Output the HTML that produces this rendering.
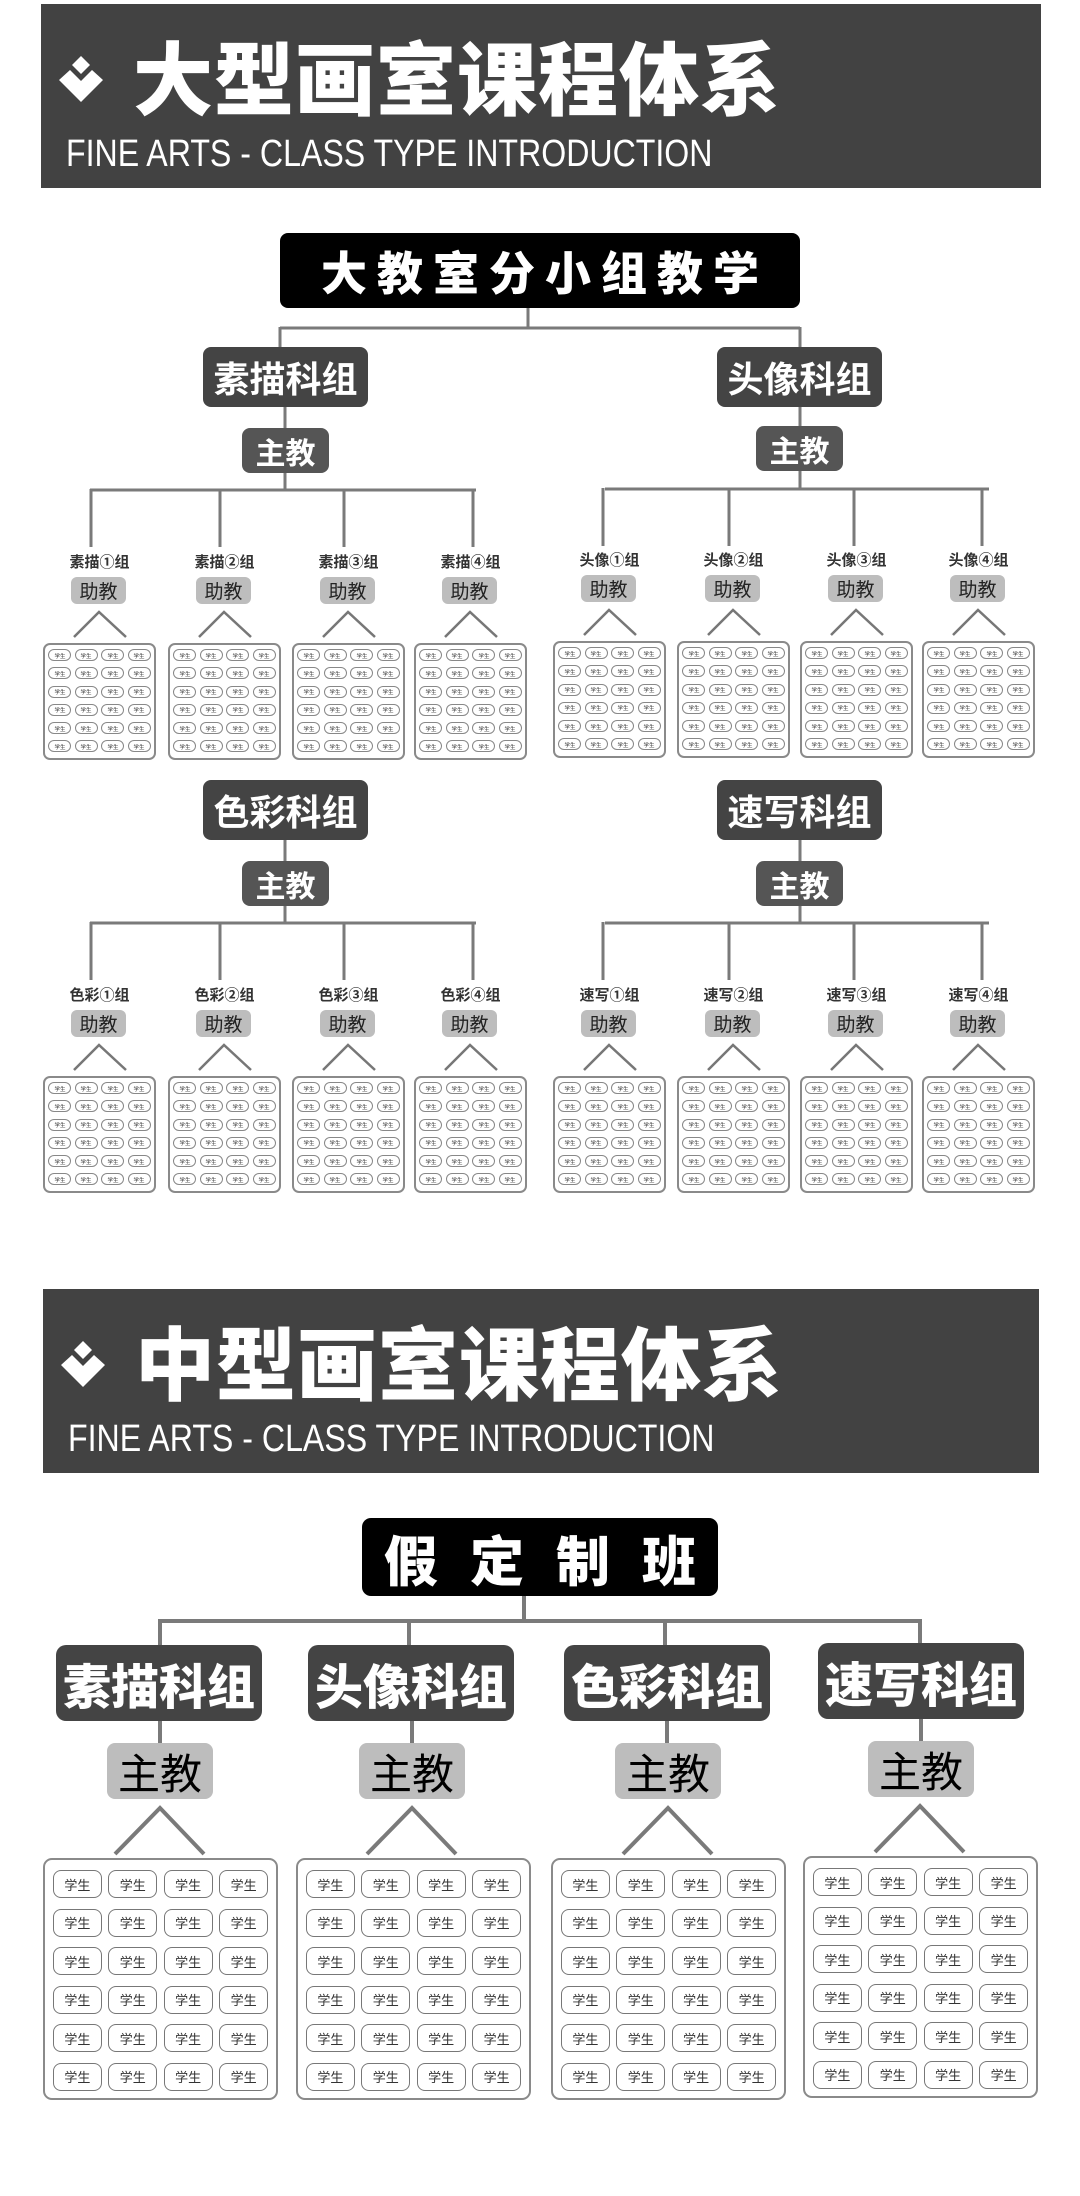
<!DOCTYPE html>
<html><head><meta charset="utf-8">
<style>
*{margin:0;padding:0;box-sizing:border-box}
body{width:1080px;height:2196px;background:#fff;position:relative;overflow:hidden;font-family:"Liberation Sans","Noto Sans CJK SC",sans-serif}
.a{position:absolute}
.hdr{position:absolute;background:#424242}
.ttl{position:absolute;color:#fff;font-family:"Noto Sans CJK SC",sans-serif;font-weight:900;font-size:80px;line-height:82px;white-space:nowrap;letter-spacing:1px}
.sub{position:absolute;color:#fff;font-family:"Liberation Sans",sans-serif;font-size:38px;line-height:38px;white-space:nowrap;transform:scaleX(0.845);transform-origin:0 0}
.bx{position:absolute;display:flex;align-items:center;justify-content:center;font-family:"Liberation Sans","Noto Sans CJK SC",sans-serif;white-space:nowrap}
.g1{background:#444;color:#fff;font-weight:700;font-size:36px;border-radius:8px;width:165px;height:60px}
.z1{background:#555;color:#fff;font-weight:700;font-size:30px;border-radius:8px;width:87px;height:45px}
.lb{position:absolute;width:113px;text-align:center;font-family:"Liberation Sans","Noto Sans CJK SC",sans-serif;font-weight:700;font-size:15px;color:#333;line-height:18px}
.zj{background:#bdbdbd;color:#222;font-size:19px;border-radius:6px;width:55px;height:27px}
.sb{position:absolute;width:113px;height:117px;border:2px solid #8a8a8a;border-radius:7px;background:#fff;display:grid;grid-template-columns:repeat(4,23px);column-gap:3.5px;row-gap:6.3px;justify-content:center;align-content:start;padding-top:4px}
.sb i{font-style:normal;display:flex;align-items:center;justify-content:center;height:12px;border:1px solid #888;border-radius:6px;font-size:10px;color:#333;font-family:"Noto Sans CJK SC",sans-serif;overflow:hidden}
.sb i b{font-weight:400;display:inline-block;transform:scale(0.55);white-space:nowrap}
.g2{background:#444;color:#fff;font-weight:900;font-size:48px;border-radius:10px;width:206px;height:76px;font-family:"Noto Sans CJK SC",sans-serif}
.z2{background:#bdbdbd;color:#000;font-size:42px;border-radius:8px;width:106px;height:56px;font-family:"Noto Sans CJK SC",sans-serif}
.sb2{position:absolute;width:235px;height:242px;border:2.5px solid #8a8a8a;border-radius:9px;background:#fff;display:grid;grid-template-columns:repeat(4,49px);column-gap:6.4px;row-gap:10.5px;justify-content:center;align-content:start;padding-top:10px}
.sb2 i{font-style:normal;display:flex;align-items:center;justify-content:center;height:28px;border:1.5px solid #777;border-radius:8px;font-size:13px;color:#333;font-family:"Noto Sans CJK SC",sans-serif}
</style></head><body>

<div class="hdr" style="left:41px;top:4px;width:1000px;height:184px"></div>
<svg class="a" style="left:0;top:0" width="1080" height="2196">
<g fill="#fff">
<polygon points="81,56 90,65 81,74 72,65"/>
<polygon points="59,80 70,70 81,81 92,70 103,80 81,102"/>
<polygon points="83,1341 92,1350 83,1359 74,1350"/>
<polygon points="61,1365 72,1355 83,1366 94,1355 105,1365 83,1387"/>
</g>
<g stroke="#7a7a7a" stroke-width="3" fill="none">
<line x1="528" y1="308" x2="528" y2="328"/>
<line x1="280" y1="328" x2="800" y2="328"/>
<line x1="280" y1="327" x2="280" y2="347"/>
<line x1="800" y1="327" x2="800" y2="347"/>
<line x1="285" y1="407" x2="285" y2="428"/>
<line x1="285" y1="473" x2="285" y2="490"/>
<line x1="90" y1="490" x2="476" y2="490"/>
<line x1="91" y1="489" x2="91" y2="547"/>
<line x1="220" y1="489" x2="220" y2="547"/>
<line x1="344" y1="489" x2="344" y2="547"/>
<line x1="473" y1="489" x2="473" y2="547"/>
<line x1="800" y1="407" x2="800" y2="428"/>
<line x1="800" y1="471" x2="800" y2="489"/>
<line x1="605" y1="489" x2="989" y2="489"/>
<line x1="603" y1="488" x2="603" y2="546"/>
<line x1="729" y1="488" x2="729" y2="546"/>
<line x1="854" y1="488" x2="854" y2="546"/>
<line x1="982" y1="488" x2="982" y2="546"/>
<line x1="285" y1="840" x2="285" y2="861"/>
<line x1="285" y1="906" x2="285" y2="923"/>
<line x1="90" y1="923" x2="476" y2="923"/>
<line x1="91" y1="922" x2="91" y2="980"/>
<line x1="220" y1="922" x2="220" y2="980"/>
<line x1="344" y1="922" x2="344" y2="980"/>
<line x1="473" y1="922" x2="473" y2="980"/>
<line x1="800" y1="840" x2="800" y2="861"/>
<line x1="800" y1="906" x2="800" y2="923"/>
<line x1="605" y1="923" x2="989" y2="923"/>
<line x1="603" y1="922" x2="603" y2="980"/>
<line x1="729" y1="922" x2="729" y2="980"/>
<line x1="854" y1="922" x2="854" y2="980"/>
<line x1="982" y1="922" x2="982" y2="980"/>
</g>
<g stroke="#777" stroke-width="2.5" fill="none">
<polyline points="74,637 99,612 126,637"/>
<polyline points="199,637 224,612 251,637"/>
<polyline points="323,637 348,612 375,637"/>
<polyline points="445,637 470,612 497,637"/>
<polyline points="584,635 609,610 636,635"/>
<polyline points="708,635 733,610 760,635"/>
<polyline points="831,635 856,610 883,635"/>
<polyline points="953,635 978,610 1005,635"/>
<polyline points="74,1070 99,1045 126,1070"/>
<polyline points="199,1070 224,1045 251,1070"/>
<polyline points="323,1070 348,1045 375,1070"/>
<polyline points="445,1070 470,1045 497,1070"/>
<polyline points="584,1070 609,1045 636,1070"/>
<polyline points="708,1070 733,1045 760,1070"/>
<polyline points="831,1070 856,1045 883,1070"/>
<polyline points="953,1070 978,1045 1005,1070"/>
</g>
<g stroke="#7a7a7a" stroke-width="4" fill="none">
<line x1="524" y1="1596" x2="524" y2="1621"/>
<line x1="160" y1="1621" x2="920" y2="1621"/>
<line x1="160" y1="1619" x2="160" y2="1645"/>
<line x1="409" y1="1619" x2="409" y2="1645"/>
<line x1="665" y1="1619" x2="665" y2="1645"/>
<line x1="920" y1="1619" x2="920" y2="1645"/>
<line x1="160" y1="1720" x2="160" y2="1743"/>
<line x1="412" y1="1720" x2="412" y2="1743"/>
<line x1="667" y1="1720" x2="667" y2="1743"/>
<line x1="921" y1="1718" x2="921" y2="1741"/>
<polyline points="115,1854 160,1808 204,1854"/>
<polyline points="367,1854 412,1808 456,1854"/>
<polyline points="623,1854 668,1808 712,1854"/>
<polyline points="875,1852 920,1806 964,1852"/>
</g>
</svg>
<div class="ttl" style="left:133px;top:34px">大型画室课程体系</div>
<div class="sub" style="left:66px;top:135px">FINE ARTS - CLASS TYPE INTRODUCTION</div>

<div class="bx" style="left:280px;top:233px;width:520px;height:75px;background:#000;color:#fff;border-radius:8px;font-family:'Noto Sans CJK SC',sans-serif;font-weight:900;font-size:46px;letter-spacing:10px;padding-left:10px">大教室分小组教学</div>

<div class="bx g1" style="left:203px;top:347px">素描科组</div>
<div class="bx g1" style="left:717px;top:347px">头像科组</div>
<div class="bx z1" style="left:242px;top:428px">主教</div>
<div class="bx z1" style="left:756px;top:426px">主教</div>

<div class="lb" style="left:43px;top:554px">素描①组</div>
<div class="lb" style="left:168px;top:554px">素描②组</div>
<div class="lb" style="left:292px;top:554px">素描③组</div>
<div class="lb" style="left:414px;top:554px">素描④组</div>
<div class="lb" style="left:553px;top:552px">头像①组</div>
<div class="lb" style="left:677px;top:552px">头像②组</div>
<div class="lb" style="left:800px;top:552px">头像③组</div>
<div class="lb" style="left:922px;top:552px">头像④组</div>

<div class="bx zj" style="left:71px;top:577px">助教</div>
<div class="bx zj" style="left:196px;top:577px">助教</div>
<div class="bx zj" style="left:320px;top:577px">助教</div>
<div class="bx zj" style="left:442px;top:577px">助教</div>
<div class="bx zj" style="left:581px;top:575px">助教</div>
<div class="bx zj" style="left:705px;top:575px">助教</div>
<div class="bx zj" style="left:828px;top:575px">助教</div>
<div class="bx zj" style="left:950px;top:575px">助教</div>

<div class="sb" style="left:43px;top:643px"><i><b>学生</b></i><i><b>学生</b></i><i><b>学生</b></i><i><b>学生</b></i><i><b>学生</b></i><i><b>学生</b></i><i><b>学生</b></i><i><b>学生</b></i><i><b>学生</b></i><i><b>学生</b></i><i><b>学生</b></i><i><b>学生</b></i><i><b>学生</b></i><i><b>学生</b></i><i><b>学生</b></i><i><b>学生</b></i><i><b>学生</b></i><i><b>学生</b></i><i><b>学生</b></i><i><b>学生</b></i><i><b>学生</b></i><i><b>学生</b></i><i><b>学生</b></i><i><b>学生</b></i></div>
<div class="sb" style="left:168px;top:643px"><i><b>学生</b></i><i><b>学生</b></i><i><b>学生</b></i><i><b>学生</b></i><i><b>学生</b></i><i><b>学生</b></i><i><b>学生</b></i><i><b>学生</b></i><i><b>学生</b></i><i><b>学生</b></i><i><b>学生</b></i><i><b>学生</b></i><i><b>学生</b></i><i><b>学生</b></i><i><b>学生</b></i><i><b>学生</b></i><i><b>学生</b></i><i><b>学生</b></i><i><b>学生</b></i><i><b>学生</b></i><i><b>学生</b></i><i><b>学生</b></i><i><b>学生</b></i><i><b>学生</b></i></div>
<div class="sb" style="left:292px;top:643px"><i><b>学生</b></i><i><b>学生</b></i><i><b>学生</b></i><i><b>学生</b></i><i><b>学生</b></i><i><b>学生</b></i><i><b>学生</b></i><i><b>学生</b></i><i><b>学生</b></i><i><b>学生</b></i><i><b>学生</b></i><i><b>学生</b></i><i><b>学生</b></i><i><b>学生</b></i><i><b>学生</b></i><i><b>学生</b></i><i><b>学生</b></i><i><b>学生</b></i><i><b>学生</b></i><i><b>学生</b></i><i><b>学生</b></i><i><b>学生</b></i><i><b>学生</b></i><i><b>学生</b></i></div>
<div class="sb" style="left:414px;top:643px"><i><b>学生</b></i><i><b>学生</b></i><i><b>学生</b></i><i><b>学生</b></i><i><b>学生</b></i><i><b>学生</b></i><i><b>学生</b></i><i><b>学生</b></i><i><b>学生</b></i><i><b>学生</b></i><i><b>学生</b></i><i><b>学生</b></i><i><b>学生</b></i><i><b>学生</b></i><i><b>学生</b></i><i><b>学生</b></i><i><b>学生</b></i><i><b>学生</b></i><i><b>学生</b></i><i><b>学生</b></i><i><b>学生</b></i><i><b>学生</b></i><i><b>学生</b></i><i><b>学生</b></i></div>
<div class="sb" style="left:553px;top:641px"><i><b>学生</b></i><i><b>学生</b></i><i><b>学生</b></i><i><b>学生</b></i><i><b>学生</b></i><i><b>学生</b></i><i><b>学生</b></i><i><b>学生</b></i><i><b>学生</b></i><i><b>学生</b></i><i><b>学生</b></i><i><b>学生</b></i><i><b>学生</b></i><i><b>学生</b></i><i><b>学生</b></i><i><b>学生</b></i><i><b>学生</b></i><i><b>学生</b></i><i><b>学生</b></i><i><b>学生</b></i><i><b>学生</b></i><i><b>学生</b></i><i><b>学生</b></i><i><b>学生</b></i></div>
<div class="sb" style="left:677px;top:641px"><i><b>学生</b></i><i><b>学生</b></i><i><b>学生</b></i><i><b>学生</b></i><i><b>学生</b></i><i><b>学生</b></i><i><b>学生</b></i><i><b>学生</b></i><i><b>学生</b></i><i><b>学生</b></i><i><b>学生</b></i><i><b>学生</b></i><i><b>学生</b></i><i><b>学生</b></i><i><b>学生</b></i><i><b>学生</b></i><i><b>学生</b></i><i><b>学生</b></i><i><b>学生</b></i><i><b>学生</b></i><i><b>学生</b></i><i><b>学生</b></i><i><b>学生</b></i><i><b>学生</b></i></div>
<div class="sb" style="left:800px;top:641px"><i><b>学生</b></i><i><b>学生</b></i><i><b>学生</b></i><i><b>学生</b></i><i><b>学生</b></i><i><b>学生</b></i><i><b>学生</b></i><i><b>学生</b></i><i><b>学生</b></i><i><b>学生</b></i><i><b>学生</b></i><i><b>学生</b></i><i><b>学生</b></i><i><b>学生</b></i><i><b>学生</b></i><i><b>学生</b></i><i><b>学生</b></i><i><b>学生</b></i><i><b>学生</b></i><i><b>学生</b></i><i><b>学生</b></i><i><b>学生</b></i><i><b>学生</b></i><i><b>学生</b></i></div>
<div class="sb" style="left:922px;top:641px"><i><b>学生</b></i><i><b>学生</b></i><i><b>学生</b></i><i><b>学生</b></i><i><b>学生</b></i><i><b>学生</b></i><i><b>学生</b></i><i><b>学生</b></i><i><b>学生</b></i><i><b>学生</b></i><i><b>学生</b></i><i><b>学生</b></i><i><b>学生</b></i><i><b>学生</b></i><i><b>学生</b></i><i><b>学生</b></i><i><b>学生</b></i><i><b>学生</b></i><i><b>学生</b></i><i><b>学生</b></i><i><b>学生</b></i><i><b>学生</b></i><i><b>学生</b></i><i><b>学生</b></i></div>

<div class="bx g1" style="left:203px;top:780px">色彩科组</div>
<div class="bx g1" style="left:717px;top:780px">速写科组</div>
<div class="bx z1" style="left:242px;top:861px">主教</div>
<div class="bx z1" style="left:756px;top:861px">主教</div>

<div class="lb" style="left:43px;top:987px">色彩①组</div>
<div class="lb" style="left:168px;top:987px">色彩②组</div>
<div class="lb" style="left:292px;top:987px">色彩③组</div>
<div class="lb" style="left:414px;top:987px">色彩④组</div>
<div class="lb" style="left:553px;top:987px">速写①组</div>
<div class="lb" style="left:677px;top:987px">速写②组</div>
<div class="lb" style="left:800px;top:987px">速写③组</div>
<div class="lb" style="left:922px;top:987px">速写④组</div>

<div class="bx zj" style="left:71px;top:1010px">助教</div>
<div class="bx zj" style="left:196px;top:1010px">助教</div>
<div class="bx zj" style="left:320px;top:1010px">助教</div>
<div class="bx zj" style="left:442px;top:1010px">助教</div>
<div class="bx zj" style="left:581px;top:1010px">助教</div>
<div class="bx zj" style="left:705px;top:1010px">助教</div>
<div class="bx zj" style="left:828px;top:1010px">助教</div>
<div class="bx zj" style="left:950px;top:1010px">助教</div>

<div class="sb" style="left:43px;top:1076px"><i><b>学生</b></i><i><b>学生</b></i><i><b>学生</b></i><i><b>学生</b></i><i><b>学生</b></i><i><b>学生</b></i><i><b>学生</b></i><i><b>学生</b></i><i><b>学生</b></i><i><b>学生</b></i><i><b>学生</b></i><i><b>学生</b></i><i><b>学生</b></i><i><b>学生</b></i><i><b>学生</b></i><i><b>学生</b></i><i><b>学生</b></i><i><b>学生</b></i><i><b>学生</b></i><i><b>学生</b></i><i><b>学生</b></i><i><b>学生</b></i><i><b>学生</b></i><i><b>学生</b></i></div>
<div class="sb" style="left:168px;top:1076px"><i><b>学生</b></i><i><b>学生</b></i><i><b>学生</b></i><i><b>学生</b></i><i><b>学生</b></i><i><b>学生</b></i><i><b>学生</b></i><i><b>学生</b></i><i><b>学生</b></i><i><b>学生</b></i><i><b>学生</b></i><i><b>学生</b></i><i><b>学生</b></i><i><b>学生</b></i><i><b>学生</b></i><i><b>学生</b></i><i><b>学生</b></i><i><b>学生</b></i><i><b>学生</b></i><i><b>学生</b></i><i><b>学生</b></i><i><b>学生</b></i><i><b>学生</b></i><i><b>学生</b></i></div>
<div class="sb" style="left:292px;top:1076px"><i><b>学生</b></i><i><b>学生</b></i><i><b>学生</b></i><i><b>学生</b></i><i><b>学生</b></i><i><b>学生</b></i><i><b>学生</b></i><i><b>学生</b></i><i><b>学生</b></i><i><b>学生</b></i><i><b>学生</b></i><i><b>学生</b></i><i><b>学生</b></i><i><b>学生</b></i><i><b>学生</b></i><i><b>学生</b></i><i><b>学生</b></i><i><b>学生</b></i><i><b>学生</b></i><i><b>学生</b></i><i><b>学生</b></i><i><b>学生</b></i><i><b>学生</b></i><i><b>学生</b></i></div>
<div class="sb" style="left:414px;top:1076px"><i><b>学生</b></i><i><b>学生</b></i><i><b>学生</b></i><i><b>学生</b></i><i><b>学生</b></i><i><b>学生</b></i><i><b>学生</b></i><i><b>学生</b></i><i><b>学生</b></i><i><b>学生</b></i><i><b>学生</b></i><i><b>学生</b></i><i><b>学生</b></i><i><b>学生</b></i><i><b>学生</b></i><i><b>学生</b></i><i><b>学生</b></i><i><b>学生</b></i><i><b>学生</b></i><i><b>学生</b></i><i><b>学生</b></i><i><b>学生</b></i><i><b>学生</b></i><i><b>学生</b></i></div>
<div class="sb" style="left:553px;top:1076px"><i><b>学生</b></i><i><b>学生</b></i><i><b>学生</b></i><i><b>学生</b></i><i><b>学生</b></i><i><b>学生</b></i><i><b>学生</b></i><i><b>学生</b></i><i><b>学生</b></i><i><b>学生</b></i><i><b>学生</b></i><i><b>学生</b></i><i><b>学生</b></i><i><b>学生</b></i><i><b>学生</b></i><i><b>学生</b></i><i><b>学生</b></i><i><b>学生</b></i><i><b>学生</b></i><i><b>学生</b></i><i><b>学生</b></i><i><b>学生</b></i><i><b>学生</b></i><i><b>学生</b></i></div>
<div class="sb" style="left:677px;top:1076px"><i><b>学生</b></i><i><b>学生</b></i><i><b>学生</b></i><i><b>学生</b></i><i><b>学生</b></i><i><b>学生</b></i><i><b>学生</b></i><i><b>学生</b></i><i><b>学生</b></i><i><b>学生</b></i><i><b>学生</b></i><i><b>学生</b></i><i><b>学生</b></i><i><b>学生</b></i><i><b>学生</b></i><i><b>学生</b></i><i><b>学生</b></i><i><b>学生</b></i><i><b>学生</b></i><i><b>学生</b></i><i><b>学生</b></i><i><b>学生</b></i><i><b>学生</b></i><i><b>学生</b></i></div>
<div class="sb" style="left:800px;top:1076px"><i><b>学生</b></i><i><b>学生</b></i><i><b>学生</b></i><i><b>学生</b></i><i><b>学生</b></i><i><b>学生</b></i><i><b>学生</b></i><i><b>学生</b></i><i><b>学生</b></i><i><b>学生</b></i><i><b>学生</b></i><i><b>学生</b></i><i><b>学生</b></i><i><b>学生</b></i><i><b>学生</b></i><i><b>学生</b></i><i><b>学生</b></i><i><b>学生</b></i><i><b>学生</b></i><i><b>学生</b></i><i><b>学生</b></i><i><b>学生</b></i><i><b>学生</b></i><i><b>学生</b></i></div>
<div class="sb" style="left:922px;top:1076px"><i><b>学生</b></i><i><b>学生</b></i><i><b>学生</b></i><i><b>学生</b></i><i><b>学生</b></i><i><b>学生</b></i><i><b>学生</b></i><i><b>学生</b></i><i><b>学生</b></i><i><b>学生</b></i><i><b>学生</b></i><i><b>学生</b></i><i><b>学生</b></i><i><b>学生</b></i><i><b>学生</b></i><i><b>学生</b></i><i><b>学生</b></i><i><b>学生</b></i><i><b>学生</b></i><i><b>学生</b></i><i><b>学生</b></i><i><b>学生</b></i><i><b>学生</b></i><i><b>学生</b></i></div>

<div class="hdr" style="left:43px;top:1289px;width:996px;height:184px;z-index:-1"></div>
<div class="ttl" style="left:135px;top:1319px">中型画室课程体系</div>
<div class="sub" style="left:68px;top:1420px">FINE ARTS - CLASS TYPE INTRODUCTION</div>

<div class="bx" style="left:362px;top:1518px;width:356px;height:78px;background:#000;color:#fff;border-radius:9px;font-family:'Noto Sans CJK SC',sans-serif;font-weight:900;font-size:54px;letter-spacing:32px;padding-left:32px">假定制班</div>

<div class="bx g2" style="left:56px;top:1645px">素描科组</div>
<div class="bx g2" style="left:308px;top:1645px">头像科组</div>
<div class="bx g2" style="left:564px;top:1645px">色彩科组</div>
<div class="bx g2" style="left:818px;top:1643px">速写科组</div>

<div class="bx z2" style="left:107px;top:1743px">主教</div>
<div class="bx z2" style="left:359px;top:1743px">主教</div>
<div class="bx z2" style="left:615px;top:1743px">主教</div>
<div class="bx z2" style="left:868px;top:1741px">主教</div>

<div class="sb2" style="left:43px;top:1858px"><i>学生</i><i>学生</i><i>学生</i><i>学生</i><i>学生</i><i>学生</i><i>学生</i><i>学生</i><i>学生</i><i>学生</i><i>学生</i><i>学生</i><i>学生</i><i>学生</i><i>学生</i><i>学生</i><i>学生</i><i>学生</i><i>学生</i><i>学生</i><i>学生</i><i>学生</i><i>学生</i><i>学生</i></div>
<div class="sb2" style="left:296px;top:1858px"><i>学生</i><i>学生</i><i>学生</i><i>学生</i><i>学生</i><i>学生</i><i>学生</i><i>学生</i><i>学生</i><i>学生</i><i>学生</i><i>学生</i><i>学生</i><i>学生</i><i>学生</i><i>学生</i><i>学生</i><i>学生</i><i>学生</i><i>学生</i><i>学生</i><i>学生</i><i>学生</i><i>学生</i></div>
<div class="sb2" style="left:551px;top:1858px"><i>学生</i><i>学生</i><i>学生</i><i>学生</i><i>学生</i><i>学生</i><i>学生</i><i>学生</i><i>学生</i><i>学生</i><i>学生</i><i>学生</i><i>学生</i><i>学生</i><i>学生</i><i>学生</i><i>学生</i><i>学生</i><i>学生</i><i>学生</i><i>学生</i><i>学生</i><i>学生</i><i>学生</i></div>
<div class="sb2" style="left:803px;top:1856px"><i>学生</i><i>学生</i><i>学生</i><i>学生</i><i>学生</i><i>学生</i><i>学生</i><i>学生</i><i>学生</i><i>学生</i><i>学生</i><i>学生</i><i>学生</i><i>学生</i><i>学生</i><i>学生</i><i>学生</i><i>学生</i><i>学生</i><i>学生</i><i>学生</i><i>学生</i><i>学生</i><i>学生</i></div>

</body></html>
